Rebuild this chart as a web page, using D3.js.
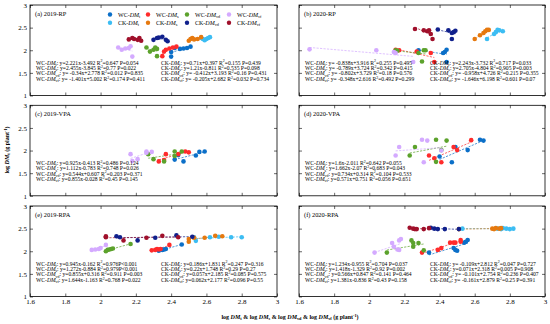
<!DOCTYPE html>
<html><head><meta charset="utf-8">
<script src="https://cdn.jsdelivr.net/npm/d3@7"></script>
<style>body{margin:0;background:#fff} svg{display:block} text{font-family:"Liberation Serif","Times New Roman",serif;fill:#000}</style>
</head><body><svg id="c" width="550" height="324"></svg>
<script>
// ---------- series definitions ----------
const seriesGroup = ["WC","WC","WC","WC","CK","CK","CK","CK"];
const seriesSub   = ["t","s","vd","vf","t","s","vd","vf"];
const seriesColor = ["#0b6fc8","#ff2b2b","#5ca22c","#d4aaff","#3cbdf3","#e6790f","#10208c","#a0102b"];
const panelTitles = ["(a) 2019-RP","(b) 2020-RP","(c) 2019-VPA","(d) 2020-VPA","(e) 2019-RPA","(f) 2020-RPA"];
const xTickValues = [1.6,1.8,2.0,2.2,2.4,2.6,2.8,3.0];
const xTickLabels = ["1.6","1.8","2","2.2","2.4","2.6","2.8","3"];
const yTickValues = [1,1.5,2,2.5,3];
const yTickLabels = ["1","1.5","2","2.5","3"];

// ---------- data: [log x, log DMt] ----------
const a_WCt  = [[2.40,1.86],[2.40,1.96],[2.42,2.05],[2.45,2.03],[2.47,2.04],[2.49,2.05],[2.51,2.08]];
const a_WCs  = [[2.35,1.87],[2.36,1.97],[2.37,2.01],[2.39,2.04],[2.41,2.06],[2.43,2.08]];
const a_WCvd = [[2.26,2.06],[2.28,1.97],[2.30,2.01],[2.31,2.06],[2.32,2.03],[2.32,1.87]];
const a_WCvf = [[2.10,2.06],[2.12,2.01],[2.14,2.04],[2.16,2.05],[2.17,2.09],[2.18,1.86]];
const a_CKt  = [[2.57,2.27],[2.58,2.25],[2.59,2.22],[2.60,2.25],[2.61,2.27],[2.62,2.29]];
const a_CKs  = [[2.50,2.21],[2.51,2.25],[2.52,2.27],[2.53,2.24],[2.55,2.25],[2.57,2.29]];
const a_CKvd = [[2.30,2.23],[2.32,2.27],[2.33,2.28],[2.35,2.30],[2.37,2.23],[2.38,2.20]];
const a_CKvf = [[2.16,2.24],[2.18,2.27],[2.19,2.25],[2.21,2.23],[2.22,2.27],[2.23,2.21]];

const b_WCt  = [[2.28,2.00],[2.42,1.94],[2.43,1.96],[2.44,2.01],[2.44,1.74]];
const b_WCs  = [[2.15,2.01],[2.17,2.00],[2.27,1.97],[2.35,1.94],[2.37,1.74]];
const b_WCvd = [[2.15,2.00],[2.16,1.99],[2.28,1.94],[2.31,2.00],[2.32,2.00],[2.30,1.75]];
const b_WCvf = [[1.66,2.02],[2.04,2.00],[2.14,1.96],[2.15,1.94],[2.25,1.74]];
const b_CKt  = [[2.67,2.25],[2.71,2.36],[2.72,2.40],[2.73,2.45],[2.74,2.44],[2.76,2.42]];
const b_CKs  = [[2.60,2.25],[2.63,2.33],[2.65,2.38],[2.66,2.42],[2.67,2.45],[2.68,2.45]];
const b_CKvd = [[2.39,2.46],[2.45,2.44],[2.47,2.38],[2.48,2.40],[2.49,2.43],[2.47,2.25]];
const b_CKvf = [[2.26,2.47],[2.31,2.44],[2.33,2.42],[2.34,2.44],[2.35,2.36],[2.36,2.25]];

const c_WCt  = [[2.42,1.80],[2.44,1.90],[2.47,1.76],[2.54,1.89],[2.56,1.97],[2.59,1.98]];
const c_WCs  = [[2.33,1.76],[2.36,1.79],[2.37,1.92],[2.44,1.92],[2.48,1.98],[2.50,1.96]];
const c_WCvd = [[2.27,1.92],[2.30,1.81],[2.36,1.76],[2.42,1.98],[2.42,1.88],[2.46,1.98]];
const c_WCvf = [[2.17,1.92],[2.18,1.77],[2.21,1.81],[2.26,1.98],[2.26,1.95],[2.29,1.97]];

const d_WCt  = [[2.40,1.87],[2.47,1.74],[2.49,2.08],[2.56,2.01],[2.63,2.24],[2.65,2.22]];
const d_WCs  = [[2.34,1.89],[2.37,1.83],[2.41,1.74],[2.48,2.08],[2.50,2.01],[2.58,2.23]];
const d_WCvd = [[2.23,1.89],[2.26,2.08],[2.38,1.75],[2.38,2.24],[2.41,2.01],[2.44,2.22]];
const d_WCvf = [[2.15,1.89],[2.17,2.08],[2.30,2.24],[2.31,1.74],[2.33,2.22],[2.41,2.00]];

const e_WCt  = [[2.33,2.01],[2.35,2.03],[2.36,2.04],[2.37,2.05],[2.46,2.15]];
const e_WCs  = [[2.29,2.02],[2.31,2.03],[2.32,2.05],[2.33,2.04],[2.34,2.05],[2.39,2.14]];
const e_WCvd = [[2.03,2.00],[2.04,2.03],[2.05,2.04],[2.06,2.05],[2.07,2.06],[2.17,2.16]];
const e_WCvf = [[1.95,2.03],[1.97,2.04],[1.99,2.05],[2.00,2.07],[2.03,2.14]];
const e_CKt  = [[2.53,2.31],[2.54,2.23],[2.62,2.31],[2.67,2.32],[2.74,2.31],[2.80,2.31]];
const e_CKs  = [[2.50,2.27],[2.50,2.21],[2.53,2.30],[2.59,2.30],[2.65,2.34],[2.69,2.33]];
const e_CKvd = [[2.09,2.33],[2.11,2.31],[2.21,2.24],[2.31,2.30],[2.43,2.35],[2.52,2.32]];
const e_CKvf = [[2.03,2.31],[2.03,2.33],[2.13,2.24],[2.26,2.30],[2.35,2.34],[2.44,2.31]];

const f_WCt  = [[2.34,1.97],[2.48,2.07],[2.49,2.03],[2.50,2.01],[2.54,2.19],[2.55,2.21],[2.56,2.25]];
const f_WCs  = [[2.30,1.97],[2.39,2.03],[2.41,2.07],[2.46,2.19],[2.48,2.19],[2.49,2.19],[2.52,2.25],[2.52,2.21]];
const f_WCvd = [[2.10,1.97],[2.24,2.24],[2.25,2.18],[2.25,2.10],[2.28,2.18],[2.31,2.02]];
const f_WCvf = [[2.03,1.97],[2.13,2.18],[2.14,2.10],[2.16,2.04],[2.17,2.24],[2.18,2.27],[2.17,2.03]];
const f_CKt  = [[2.53,2.50],[2.73,2.50],[2.75,2.49],[2.76,2.51],[2.78,2.50],[2.80,2.49],[2.82,2.50]];
const f_CKs  = [[2.51,2.49],[2.70,2.50],[2.71,2.49],[2.72,2.51],[2.74,2.50],[2.75,2.51]];
const f_CKvd = [[2.35,2.52],[2.37,2.50],[2.39,2.49],[2.43,2.49],[2.51,2.49]];
const f_CKvf = [[2.23,2.52],[2.25,2.50],[2.26,2.49],[2.27,2.49],[2.31,2.49],[2.34,2.51]];

// ---------- regression texts: [equation, text after R] ----------
const a_WCeq = [["y=2.221x-3.492","=0.647 P=0.054"],["y=2.455x-3.845","=0.77 P=0.022"],["y= -0.34x+2.778","=0.012 P=0.835"],["y= -1.401x+5.002","=0.174 P=0.411"]];
const a_CKeq = [["y=0.71x+0.397","=0.155 P=0.439"],["y=1.21x-0.811","=0.535 P=0.098"],["y= -0.412x+3.193","=0.16 P=0.431"],["y= -0.205x+2.682","=0.032 P=0.734"]];
const b_WCeq = [["y= -0.838x+3.916","=0.255 P=0.495"],["y= -0.789x+3.724","=0.342 P=0.415"],["y= -0.802x+3.729","=0.18 P=0.576"],["y= -0.348x+2.616","=0.492 P=0.299"]];
const b_CKeq = [["y=2.243x-3.732","=0.717 P=0.033"],["y=2.705x-4.804","=0.905 P=0.003"],["y= -0.958x+4.726","=0.215 P=0.355"],["y= -1.646x+6.198","=0.601 P=0.07"]];
const c_WCeq = [["y=0.925x-0.413","=0.486 P=0.124"],["y=1.112x-0.783","=0.748 P=0.026"],["y=0.544x+0.607","=0.203 P=0.371"],["y=0.855x-0.028","=0.45 P=0.145"]];
const d_WCeq = [["y=1.6x-2.011","=0.642 P=0.055"],["y=1.662x-2.07","=0.683 P=0.043"],["y=0.734x+0.314","=0.104 P=0.533"],["y=0.571x+0.751","=0.056 P=0.651"]];
const e_WCeq = [["y=0.945x-0.162","=0.976P<0.001"],["y=1.272x-0.884","=0.979P<0.001"],["y=0.855x+0.316","=0.911 P=0.003"],["y=1.644x-1.163","=0.768 P=0.022"]];
const e_CKeq = [["y=0.186x+1.831","=0.247 P=0.316"],["y=0.22x+1.748","=0.29 P=0.27"],["y=0.057x+2.185","=0.085 P=0.575"],["y=0.062x+2.177","=0.096 P=0.55"]];
const f_WCeq = [["y=1.234x-0.955","=0.704 P=0.037"],["y=1.418x-1.329","=0.92 P=0.002"],["y=0.566x+0.847","=0.141 P=0.464"],["y=1.381x-0.836","=0.43 P=0.158"]];
const f_CKeq = [["y= -0.109x+2.812","=0.047 P=0.727"],["y=0.071x+2.318","=0.005 P=0.908"],["y= -0.101x+2.754","=0.236 P=0.407"],["y= -0.161x+2.879","=0.25 P=0.391"]];

// ---------- assemble panels ----------
const panelData = [
  [a_WCt,a_WCs,a_WCvd,a_WCvf,a_CKt,a_CKs,a_CKvd,a_CKvf],
  [b_WCt,b_WCs,b_WCvd,b_WCvf,b_CKt,b_CKs,b_CKvd,b_CKvf],
  [c_WCt,c_WCs,c_WCvd,c_WCvf],
  [d_WCt,d_WCs,d_WCvd,d_WCvf],
  [e_WCt,e_WCs,e_WCvd,e_WCvf,e_CKt,e_CKs,e_CKvd,e_CKvf],
  [f_WCt,f_WCs,f_WCvd,f_WCvf,f_CKt,f_CKs,f_CKvd,f_CKvf]
];
const panelEqs = [[a_WCeq,a_CKeq],[b_WCeq,b_CKeq],[c_WCeq,null],[d_WCeq,null],[e_WCeq,e_CKeq],[f_WCeq,f_CKeq]];

const svg = d3.select("#c");
const colX = [[30,277],[299,545]];
const rowTop = [5,105.3,206];
const H = 90.5;
const FS = 5.6;

function subTextSpans(t, parts, fs){ // parts: [text, style]
  const f = fs||FS;
  parts.forEach(p=>{
    const s=t.append("tspan").text(p[0]);
    if(p[1]==="i") s.attr("font-style","italic");
    if(p[1]==="sub") s.attr("font-size",f*0.7).attr("dy",1.3);
    if(p[1]==="unsub") s.attr("dy",-1.3);
    if(p[1]==="sup") s.attr("font-size",f*0.7).attr("dy",-2.2);
    if(p[1]==="unsup") s.attr("dy",2.2);
  });
}

panelData.forEach((series,pi)=>{
  const col = pi%2, row = Math.floor(pi/2);
  const x = d3.scaleLinear().domain([1.6,3]).range(colX[col]);
  const y = d3.scaleLinear().domain([1,3]).range([rowTop[row]+H,rowTop[row]]);
  const g = svg.append("g");
  const [x0,x1]=x.range(), [yb,yt]=y.range();

  const fmtX = d=>xTickLabels[xTickValues.findIndex(v=>Math.abs(v-d)<1e-9)];
  const fmtY = d=>yTickLabels[yTickValues.findIndex(v=>Math.abs(v-d)<1e-9)];
  const ax = [
    g.append("g").attr("transform",`translate(0,${yb})`).call(d3.axisBottom(x).tickValues(xTickValues).tickSizeInner(-3).tickSizeOuter(0).tickPadding(3).tickFormat(row===2?fmtX:()=>"")),
    g.append("g").attr("transform",`translate(0,${yt})`).call(d3.axisTop(x).tickValues(xTickValues).tickSizeInner(-3).tickSizeOuter(0).tickFormat(()=>"")),
    g.append("g").attr("transform",`translate(${x0},0)`).call(d3.axisLeft(y).tickValues(yTickValues).tickSizeInner(-3).tickSizeOuter(0).tickPadding(3).tickFormat(col===0?fmtY:()=>"")),
    g.append("g").attr("transform",`translate(${x1},0)`).call(d3.axisRight(y).tickValues(yTickValues).tickSizeInner(-3).tickSizeOuter(0).tickFormat(()=>""))
  ];
  ax.forEach(a=>{
    a.select(".domain").remove();
    a.selectAll("line").attr("stroke","#000").attr("stroke-width",0.6);
    a.selectAll("text").attr("font-family","Liberation Serif").attr("font-size",7).attr("fill","#000");
  });
  g.append("rect").attr("x",x0).attr("y",yt).attr("width",x1-x0).attr("height",yb-yt)
    .attr("fill","none").attr("stroke","#000").attr("stroke-width",0.8);

  g.append("text").attr("x",x0+5).attr("y",yt+11).attr("font-size",6.4).text(panelTitles[pi]);

  // fit lines (least squares through the plotted points)
  series.forEach((pts,si)=>{
    const mx=d3.mean(pts,d=>d[0]), my=d3.mean(pts,d=>d[1]);
    let sxy=0,sxx=0; pts.forEach(d=>{sxy+=(d[0]-mx)*(d[1]-my);sxx+=(d[0]-mx)**2;});
    const b=sxx?sxy/sxx:0, a=my-b*mx;
    const [lo,hi]=d3.extent(pts,d=>d[0]);
    g.append("line").attr("x1",x(lo)).attr("x2",x(hi)).attr("y1",y(a+b*lo)).attr("y2",y(a+b*hi))
      .attr("stroke",seriesColor[si]).attr("stroke-width",1).attr("stroke-dasharray","2.2,1.3").attr("opacity",0.7);
  });
  series.forEach((pts,si)=>{
    g.selectAll(null).data(pts).enter().append("circle")
      .attr("cx",d=>x(d[0])).attr("cy",d=>y(d[1])).attr("r",2.3).attr("fill",seriesColor[si]);
  });

  panelEqs[pi].forEach((eqs,gi)=>{
    if(!eqs) return;
    const tx = x0 + (gi===0?6:131);
    eqs.forEach((e,k)=>{
      const t=g.append("text").attr("x",tx).attr("y",yt+59.5+k*5.4).attr("font-size",FS);
      subTextSpans(t,[[(gi===0?"WC":"CK")+"-",""],["DM","i"],[seriesSub[k],"sub"],[": "+e[0]+" R","unsub"],["2","sup"],[e[1],"unsup"]]);
    });
  });

  if(pi===0){
    const lx=[110,148,187,229];
    seriesGroup.forEach((grp,si)=>{
      const cx=lx[si%4], cy=yt+(si<4?9.5:17.8);
      g.append("circle").attr("cx",cx).attr("cy",cy).attr("r",2.2).attr("fill",seriesColor[si]);
      const t=g.append("text").attr("x",cx+8).attr("y",cy+2).attr("font-size",6);
      subTextSpans(t,[[grp+"-",""],["DM","i"],[seriesSub[si],"sub"]],6);
    });
  }
});

const yl=svg.append("text").attr("transform","translate(9,150) rotate(-90)").attr("text-anchor","middle").attr("font-size",6).attr("font-weight","bold");
subTextSpans(yl,[["log ",""],["DM","i"],["t","sub"],[" (g plant","unsub"],["-1","sup"],[")","unsup"]],6);
const xl=svg.append("text").attr("x",290).attr("y",319).attr("text-anchor","middle").attr("font-size",6).attr("font-weight","bold");
subTextSpans(xl,[["log ",""],["DM","i"],["t","sub"],[" & log ","unsub"],["DM","i"],["s","sub"],[" & log ","unsub"],["DM","i"],["vd","sub"],[" & log ","unsub"],["DM","i"],["vf","sub"],[" (g plant","unsub"],["-1","sup"],[")","unsup"]],6);
</script></body></html>
